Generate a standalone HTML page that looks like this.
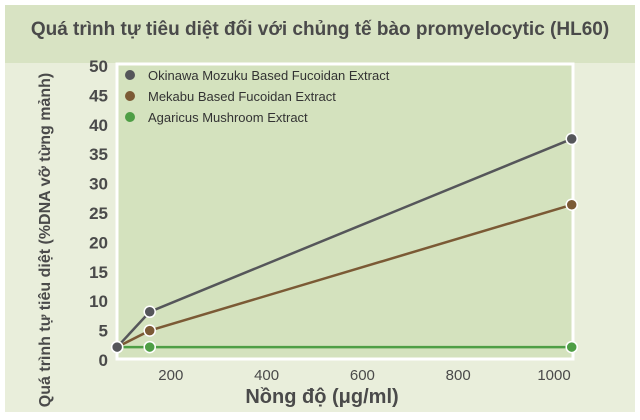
<!DOCTYPE html>
<html><head><meta charset="utf-8"><style>
body{margin:0;background:#fff;font-family:"Liberation Sans",sans-serif}
svg{display:block}
</style></head><body>
<svg width="640" height="420">
<rect x="5" y="5" width="630" height="407" fill="#e9eedb"/>
<rect x="5" y="5" width="630" height="58" fill="#d8e3c3"/>
<text x="320" y="35" text-anchor="middle" font-size="19" font-weight="bold" fill="#4a4a4a">Quá trình tự tiêu diệt đối với chủng tế bào promyelocytic (HL60)</text>
<rect x="117" y="64" width="456" height="295" fill="#d4e2be" stroke="#fff" stroke-width="3"/>
<g id="yt"></g><g id="xt"></g><g id="lines"></g>
<text transform="translate(50,240) rotate(-90)" text-anchor="middle" font-size="16" font-weight="bold" fill="#4a4a4a">Quá trình tự tiêu diệt (%DNA vỡ từng mảnh)</text>
<text x="322" y="403" text-anchor="middle" font-size="20" font-weight="bold" fill="#4a4a4a">Nồng độ (μg/ml)</text>
<g>
<circle cx="130" cy="75" r="5" fill="#55565a"/><text x="148" y="80" font-size="13" fill="#333">Okinawa Mozuku Based Fucoidan Extract</text>
<circle cx="130" cy="96" r="5" fill="#7b5a35"/><text x="148" y="101" font-size="13" fill="#333">Mekabu Based Fucoidan Extract</text>
<circle cx="130" cy="117" r="5" fill="#4e9e45"/><text x="148" y="122" font-size="13" fill="#333">Agaricus Mushroom Extract</text>
</g>
</svg>
<script>
const xValues=[88,156,1037];
const okinawa=[2.2,8.2,37.6];
const mekabu=[2.2,5,26.4];
const agaricus=[2.2,2.2,2.2];
const yTicks=[0,5,10,15,20,25,30,35,40,45,50];
const xTicks=[200,400,600,800,1000];
const X=v=>75+v*0.479, Y=v=>360-v*5.88;
const NS="http://www.w3.org/2000/svg";
function mk(t,a,p){const e=document.createElementNS(NS,t);for(const k in a)e.setAttribute(k,a[k]);p.appendChild(e);return e;}
const yt=document.getElementById('yt'),xt=document.getElementById('xt'),lg=document.getElementById('lines');
yTicks.forEach(v=>{const t=mk('text',{x:108,y:Y(v)+6,'text-anchor':'end','font-size':17,'font-weight':'bold',fill:'#4a4a4a'},yt);t.textContent=v;

});
xTicks.forEach(v=>{const t=mk('text',{x:X(v),y:380,'text-anchor':'middle','font-size':15,fill:'#4a4a4a'},xt);t.textContent=v;

});
[[agaricus,'#4e9e45','agaricus'],[mekabu,'#7b5a35','mekabu'],[okinawa,'#55565a','okinawa']].forEach(([d,c,n])=>{
const pl=mk('polyline',{points:d.map((v,i)=>X(xValues[i])+','+Y(v)).join(' '),fill:'none',stroke:c,'stroke-width':2.5},lg);


d.forEach((v,i)=>{const ci=mk('circle',{cx:X(xValues[i]),cy:Y(v),r:5.5,fill:c,stroke:'#fff','stroke-width':1.5},lg);

});
});
</script>
</body></html>
